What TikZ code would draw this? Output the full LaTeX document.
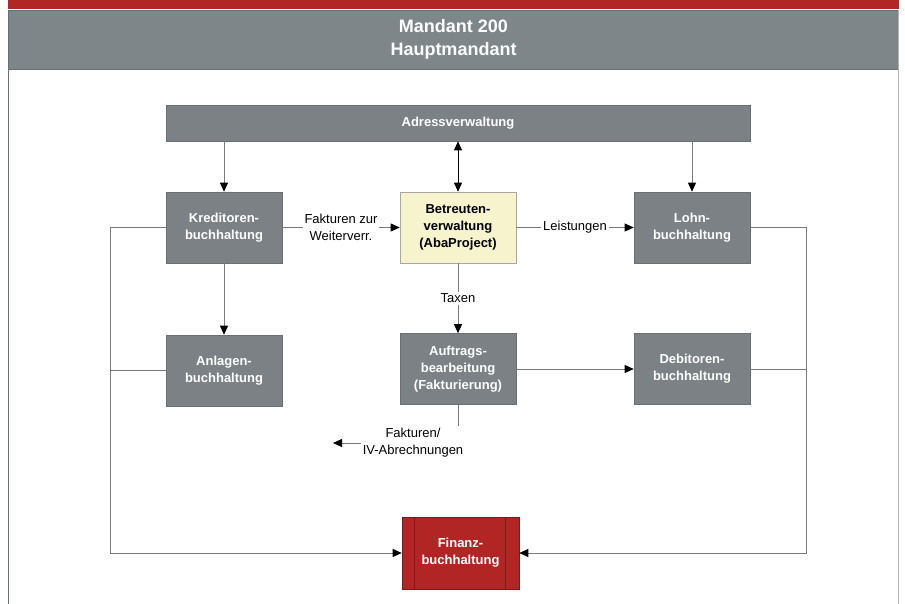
\documentclass[tikz,border=0pt]{standalone}
\usepackage{fontspec}
\setmainfont{Liberation Sans}
\usetikzlibrary{arrows.meta,calc}
\definecolor{hdrgray}{HTML}{7F868A}
\definecolor{boxgray}{HTML}{7B8185}
\definecolor{boxedge}{HTML}{6A6F73}
\definecolor{topred}{HTML}{B22626}
\definecolor{finred}{HTML}{B22525}
\definecolor{finedge}{HTML}{7A1A1A}
\definecolor{ylw}{HTML}{F6F3CD}
\definecolor{ylwedge}{HTML}{A8A8A0}
\definecolor{conngray}{HTML}{7A7A7A}
\tikzset{
  x=1pt, y=-1pt,
  gbox/.style={rectangle, fill=boxgray, draw=boxedge, line width=0.6pt, minimum width=116pt, minimum height=71pt, inner sep=0pt, align=center, text=white, font=\bfseries\fontsize{13}{17}\selectfont},
  ybox/.style={gbox, fill=ylw, draw=ylwedge, text=black},
  fbox/.style={gbox, fill=finred, draw=finedge, minimum width=117pt, minimum height=72pt},
  tip/.style={-{Triangle[length=9pt,width=8pt,color=black]}},
  conn/.style={draw=conngray, line width=0.8pt, tip},
  plainconn/.style={draw=conngray, line width=0.8pt},
  lbl/.style={fill=white, inner sep=2pt, align=center, text=black, font=\fontsize{13}{17}\selectfont},
}
\begin{document}
\begin{tikzpicture}
\useasboundingbox (0,0) rectangle (905,604);
% top bars and frame
\fill[topred] (8,0) rectangle (899,9);
\fill[hdrgray] (8,10) rectangle (899,69);
\draw[boxedge, line width=0.8pt] (8,10) -- (899,10);
\draw[boxedge, line width=0.8pt] (8,69) -- (899,69);
\draw[boxedge, line width=1pt] (8,10) -- (8,604);
\draw[gray!60, line width=1pt] (898,10) -- (898,604);
\node[text=white, font=\bfseries\fontsize{18}{23}\selectfont, align=center] (hdr) at (453.5,39) {Mandant 200\\Hauptmandant};
% boxes
\node[gbox, minimum width=584pt, minimum height=36pt] (adr) at (458,123) {Adressverwaltung};
\node[gbox] (kred) at (224,227.5) {Kreditoren-\\buchhaltung};
\node[ybox] (betr) at (458,227.5) {Betreuten-\\verwaltung\\(AbaProject)};
\node[gbox] (lohn) at (692,227.5) {Lohn-\\buchhaltung};
\node[gbox] (anl) at (224,370.5) {Anlagen-\\buchhaltung};
\node[gbox] (auf) at (458,369) {Auftrags-\\bearbeitung\\(Fakturierung)};
\node[gbox] (deb) at (692,369) {Debitoren-\\buchhaltung};
\node[fbox] (fin) at (460.5,553) {Finanz-\\buchhaltung};
\draw[finedge, line width=0.7pt] ([xshift=13pt]fin.north west) -- ([xshift=13pt]fin.south west);
\draw[finedge, line width=0.7pt] ([xshift=-14pt]fin.north east) -- ([xshift=-14pt]fin.south east);
% connectors
\draw[conn] (kred.north |- adr.south) -- (kred.north);
\draw[draw=black, line width=0.8pt, {Triangle[length=9pt,width=8pt]}-{Triangle[length=9pt,width=8pt]}] (betr.north |- adr.south) -- (betr.north);
\draw[conn] (lohn.north |- adr.south) -- (lohn.north);
\draw[conn] (kred.east) -- node[lbl] (l1) {Fakturen zur\\Weiterverr.} (betr.west);
\draw[conn] (betr.east) -- node[lbl] (l2) {Leistungen} (lohn.west);
\draw[conn] (betr.south) -- node[lbl] (l3) {Taxen} (auf.north);
\draw[conn] (kred.south) -- (anl.north);
\draw[conn] (auf.east) -- (deb.west);
\coordinate (fk) at (333,443);
\draw[conn] (auf.south) |- (fk);
\node[lbl] (l4) at (413,443) {Fakturen/\\IV-Abrechnungen};
% buses to Finanzbuchhaltung
\coordinate (lb) at (110,553);
\coordinate (rb) at (806,553);
\draw[conn] (kred.west) -| (lb) -- (fin.west);
\draw[plainconn] (anl.west) -- (anl.west -| lb);
\draw[conn] (lohn.east) -| (rb) -- (fin.east);
\draw[plainconn] (deb.east) -- (deb.east -| rb);
\end{tikzpicture}
\end{document}
